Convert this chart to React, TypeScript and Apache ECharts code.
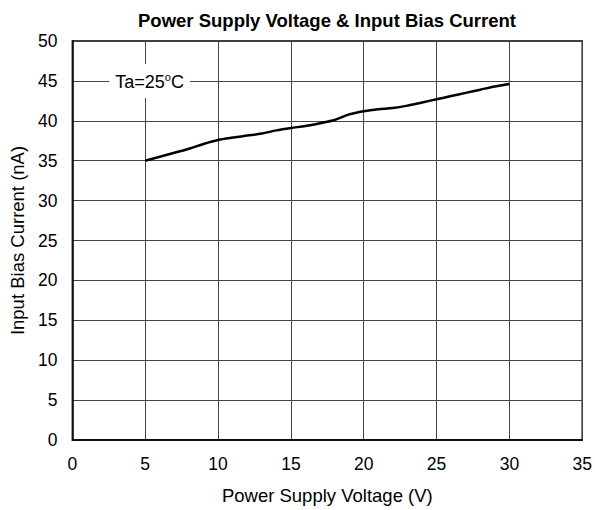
import React, { useEffect, useRef } from "react";
import * as echarts from "echarts";

const voltage = [5, 6, 7, 8, 9, 10, 11, 12, 13, 14, 15, 16, 17, 18, 19, 20, 21, 22, 23, 24, 25, 26, 27, 28, 29, 30];
const biasCurrent = [35.0, 35.5, 36.0, 36.5, 37.1, 37.6, 37.9, 38.15, 38.4, 38.8, 39.1, 39.35, 39.7, 40.1, 40.8, 41.2, 41.45, 41.6, 41.9, 42.3, 42.7, 43.1, 43.5, 43.9, 44.3, 44.6];
const xTicks = { min: 0, max: 35, interval: 5 };
const yTicks = { min: 0, max: 50, interval: 5 };
const annotation = { x: 5.3, y: 45 };

export default function App() {
  const ref = useRef<HTMLDivElement>(null);
  useEffect(() => {
    if (!ref.current) return;
    document.body.style.margin = "0";
    const chart = echarts.init(ref.current, undefined, { renderer: "svg" });
    const font = "Liberation Sans, Arial, sans-serif";
    chart.setOption({
      animation: false,
      backgroundColor: "#fff",
      title: {
        text: "Power Supply Voltage & Input Bias Current",
        left: 322,
        textAlign: "center",
        top: 6,
        textStyle: { fontFamily: font, fontSize: 18.5, fontWeight: "bold", color: "#000" },
      },
      grid: { left: 72, right: 10, top: 41, bottom: 68, show: true, borderColor: "#000", borderWidth: 1.5 },
      xAxis: {
        type: "value",
        min: xTicks.min,
        max: xTicks.max,
        interval: xTicks.interval,
        name: "Power Supply Voltage (V)",
        nameLocation: "middle",
        nameGap: 46,
        nameTextStyle: { fontFamily: font, fontSize: 18.5, color: "#000" },
        axisLine: { show: true, lineStyle: { color: "#000", width: 1.5 } },
        axisTick: { show: false },
        axisLabel: { fontFamily: font, fontSize: 17.5, color: "#000", margin: 15 },
        splitLine: { show: true, lineStyle: { color: "#444", width: 1 } },
      },
      yAxis: {
        type: "value",
        min: yTicks.min,
        max: yTicks.max,
        interval: yTicks.interval,
        name: "Input Bias Current (nA)",
        nameLocation: "middle",
        nameGap: 45,
        nameTextStyle: { fontFamily: font, fontSize: 18.5, color: "#000" },
        axisLine: { show: true, lineStyle: { color: "#000", width: 1.5 } },
        axisTick: { show: false },
        axisLabel: { fontFamily: font, fontSize: 17.5, color: "#000", margin: 15 },
        splitLine: { show: true, lineStyle: { color: "#444", width: 1 } },
      },
      series: [
        {
          type: "line",
          data: voltage.map((v, i) => [v, biasCurrent[i]]),
          showSymbol: false,
          symbol: "none",
          smooth: 0.3,
          lineStyle: { color: "#000", width: 2.5 },
          markPoint: {
            symbol: "rect",
            symbolSize: 0,
            data: [{ coord: [annotation.x, annotation.y] }],
            label: {
              show: true,
              position: "inside",
              formatter: "{b|Ta=25}{s|o}{b|C}",
              backgroundColor: "#fff",
              padding: [8, 6, 7, 6],
              rich: {
                b: { fontFamily: font, fontSize: 18, color: "#000", lineHeight: 19, verticalAlign: "bottom" },
                s: { fontFamily: font, fontSize: 11, color: "#000", lineHeight: 19, verticalAlign: "top", padding: [0, 0, 7, 0] },
              },
            },
          },
        },
      ],
    });
    return () => chart.dispose();
  }, []);
  return <div ref={ref} style={{ width: 595, height: 510 }} />;
}
